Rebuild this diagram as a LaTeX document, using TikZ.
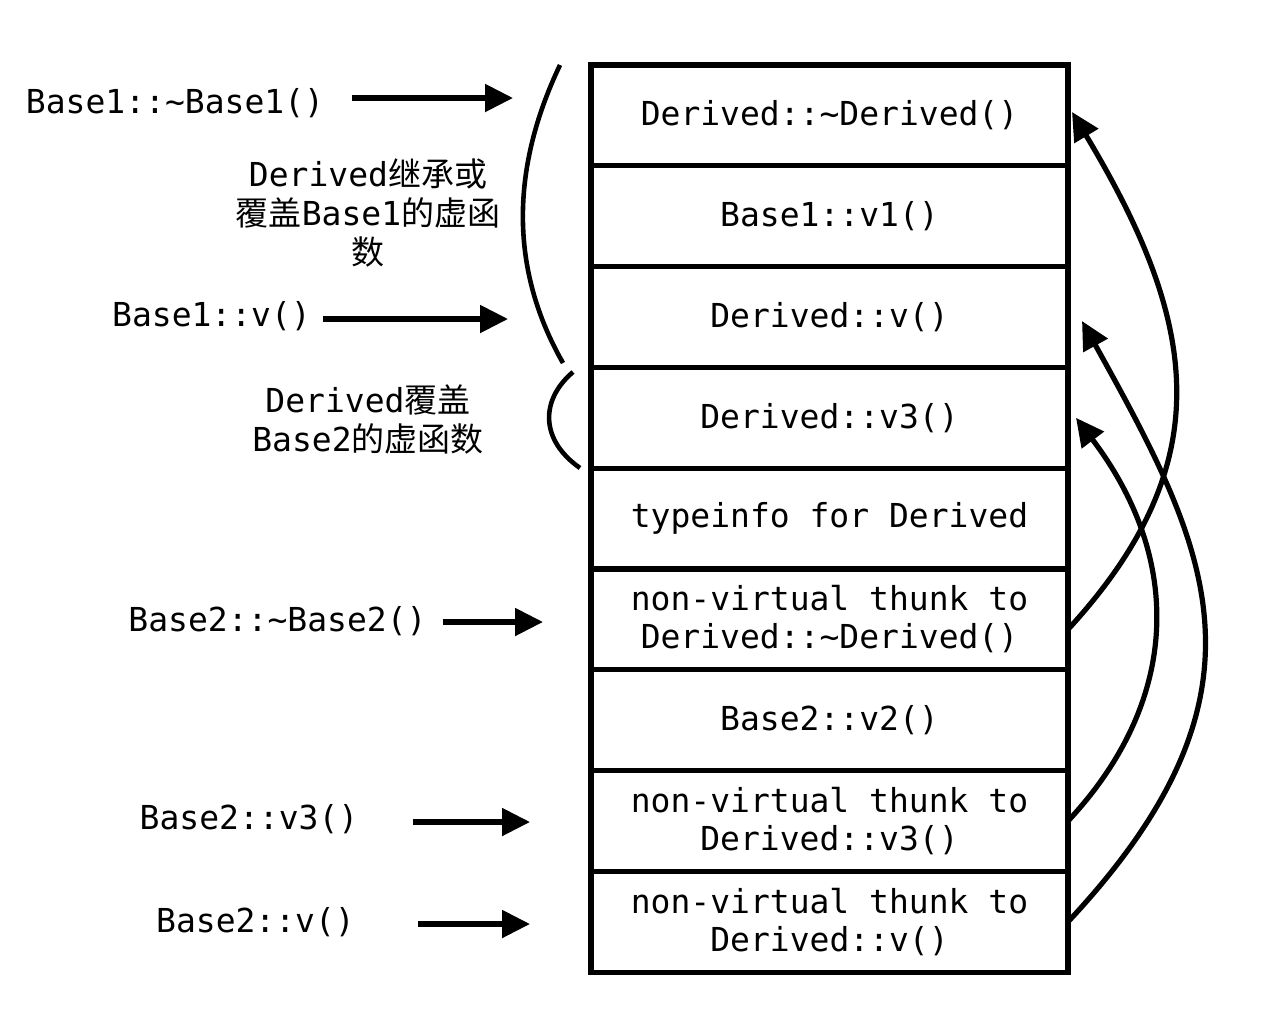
\documentclass[tikz,border=0pt]{standalone}
\usepackage{fontspec}
\setmonofont{DejaVu Sans Mono}
\newfontfamily\cjk{Noto Sans CJK SC}
\usepackage{tikz}
\usetikzlibrary{arrows.meta,     % pointes de flèches
                positioning}     % placement relatif
\newcommand{\zh}[1]{{\cjk #1}}

\tikzset{
  slot/.style={draw, line width=2.6pt, minimum width=238.5pt, minimum height=50.4pt,
               outer sep=0pt, inner sep=0pt, align=center,
               font=\ttfamily\fontsize{16.5}{19}\selectfont},
  fn/.style={inner sep=0pt, font=\ttfamily\fontsize{16.5}{19}\selectfont},
  note/.style={inner sep=0pt, align=center, font=\ttfamily\fontsize{16.5}{19.5}\selectfont},
  ptr/.style={line width=2.6pt, -{Triangle[length=14pt,width=13.5pt]}},
  brace/.style={line width=2.3pt}
}

\begin{document}
\begin{tikzpicture}[x=0.5pt,y=-0.5pt]
\useasboundingbox (0,0) rectangle (1273,1034);
% la vtable de Derived
\node[slot] (s1) at (829.5,115.4) {Derived::\textasciitilde Derived()};
\node[slot,below=0pt of s1] (s2) {Base1::v1()};
\node[slot,below=0pt of s2] (s3) {Derived::v()};
\node[slot,below=0pt of s3] (s4) {Derived::v3()};
\node[slot,below=0pt of s4] (s5) {typeinfo for Derived};
\node[slot,below=0pt of s5] (s6) {non-virtual thunk to\\Derived::\textasciitilde Derived()};
\node[slot,below=0pt of s6] (s7) {Base2::v2()};
\node[slot,below=0pt of s7] (s8) {non-virtual thunk to\\Derived::v3()};
\node[slot,below=0pt of s8] (s9) {non-virtual thunk to\\Derived::v()};
% fonctions des classes de base
\node[fn] (b1d) at (175,103) {Base1::\textasciitilde Base1()};
\node[fn] (b1v) at (211.5,316) {Base1::v()};
\node[fn] (b2d) at (277.5,621) {Base2::\textasciitilde Base2()};
\node[fn] (b2v3) at (249,819) {Base2::v3()};
\node[fn] (b2v) at (255.5,922) {Base2::v()};
\coordinate (p1) at (513,98);
\coordinate (p2) at (508,319);
\coordinate (p3) at (543,622);
\coordinate (p4) at (530,822);
\coordinate (p5) at (530,924);
\draw[ptr] ([xshift=14pt,yshift=2.5pt]b1d.east) -- (p1);
\draw[ptr] ([xshift=6pt,yshift=-1.5pt]b1v.east) -- (p2);
\draw[ptr] ([xshift=8pt,yshift=-0.5pt]b2d.east) -- (p3);
\draw[ptr] ([xshift=27pt,yshift=-1.5pt]b2v3.east) -- (p4);
\draw[ptr] ([xshift=31.5pt,yshift=-1pt]b2v.east) -- (p5);
% accolades et commentaires
\node[note] (n1) at (368,213) {Derived\zh{继承或}\\\zh{覆盖}Base1\zh{的虚函}\\\zh{数}};
\node[note] (n2) at (368,419) {Derived\zh{覆盖}\\Base2\zh{的虚函数}};
\draw[brace] (560,65) .. controls (510,170) and (510,270) .. (563,363);
\draw[brace] (573,372) .. controls (540,400) and (540,440) .. (580,468);
% thunks
\draw[ptr] ([yshift=-5pt]s6.east) .. controls (1222,462) and (1198,322) .. ([xshift=2pt,yshift=1.7pt]s1.east);
\draw[ptr] (s9.east) .. controls (1283,692) and (1209,550) .. ([xshift=7pt,yshift=-2pt]s3.east);
\draw[ptr] (s8.east) .. controls (1181,700) and (1183,559) .. ([xshift=4pt]s4.east);
\end{tikzpicture}
\end{document}
